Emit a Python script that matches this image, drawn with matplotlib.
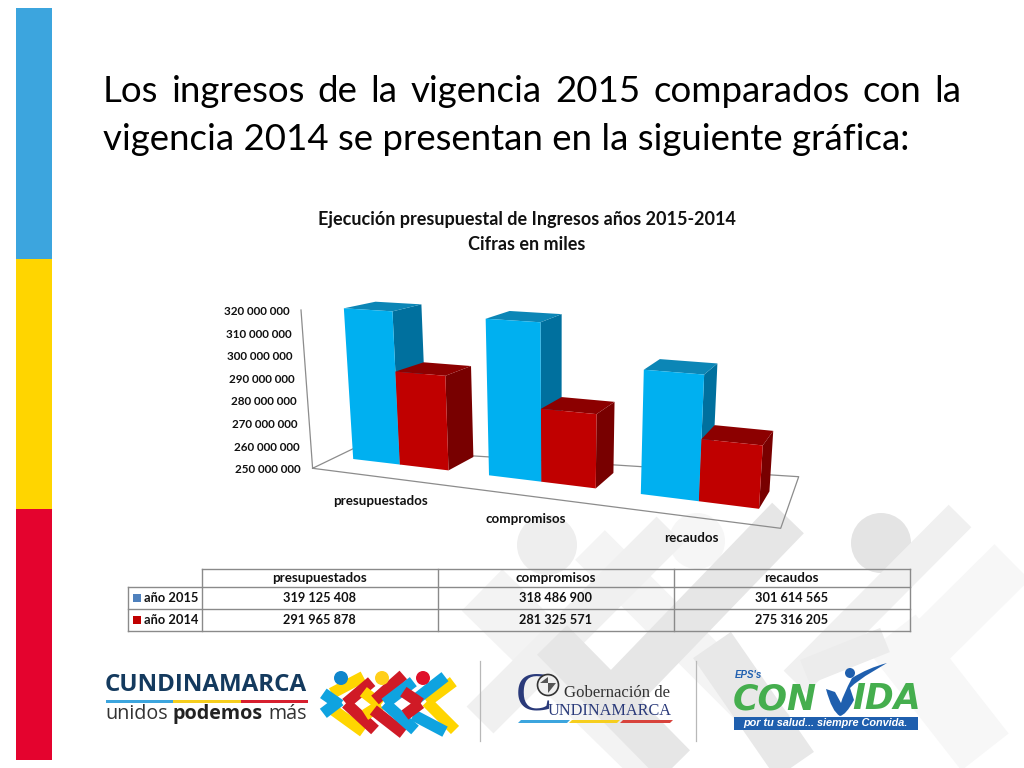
import matplotlib
matplotlib.use("Agg")
import matplotlib.pyplot as plt
from matplotlib.patches import Polygon, Rectangle, Circle, PathPatch
from matplotlib.path import Path
import numpy as np

# ---- data ----
categories = ["presupuestados", "compromisos", "recaudos"]
series_names = ["año 2015", "año 2014"]
values_2015 = [319125408, 318486900, 301614565]
values_2014 = [291965878, 281325571, 275316205]
axis_ticks = [250000000, 260000000, 270000000, 280000000,
              290000000, 300000000, 310000000, 320000000]
chart_title = ["Ejecución presupuestal de Ingresos años 2015-2014", "Cifras en miles"]
heading_1 = "Los ingresos de la vigencia 2015 comparados con la"
heading_2 = "vigencia 2014 se presentan en la siguiente gráfica:"

FONT = "Lato"
INK = "#111111"


def spaced(v):
    return f"{v:,}".replace(",", " ")


fig = plt.figure(figsize=(10.24, 7.68), dpi=100, facecolor="white")
ax = fig.add_axes([0, 0, 1, 1])
ax.set_xlim(0, 1024)
ax.set_ylim(768, 0)
ax.axis("off")
renderer = fig.canvas.get_renderer()


def band(x0, y0, x1, y1, w, color, z=1, alpha=1.0):
    d = np.array([x1 - x0, y1 - y0], float)
    n = np.array([-d[1], d[0]]) / np.hypot(*d) * w / 2
    a, b = np.array([x0, y0]), np.array([x1, y1])
    ax.add_patch(Polygon([a + n, b + n, b - n, a - n], closed=True, fc=color, ec="none",
                         zorder=z, alpha=alpha))


# ---- slide background ----
for y0, y1, c in [(8, 259, "#3CA5DE"), (259, 509, "#FFD500"), (509, 760, "#E4032E")]:
    ax.add_patch(Rectangle((15.5, y0), 36.5, y1 - y0, fc=c, ec="none", zorder=1))

for cx, cy, r, c in [(547, 545, 30, "#EEEEEE"), (881, 543, 30, "#E4E4E4"), (697, 541, 28, "#F6F6F6")]:
    ax.add_patch(Circle((cx, cy), r, fc=c, ec="none", zorder=1))
for b in [
    (1012, 562, 905, 668, 50, "#F7F7F7"),
    (892, 633, 985, 752, 60, "#F7F7F7"),
    (960, 516, 795, 682, 32, "#F0F0F0"),
    (482, 590, 668, 772, 58, "#F3F3F3"),
    (590, 545, 775, 730, 42, "#F4F4F4"),
    (670, 530, 480, 720, 38, "#F0F0F0"),
    (552, 640, 675, 765, 42, "#E6E6E6"),
    (788, 518, 625, 687, 44, "#E6E6E6"),
    (712, 645, 795, 765, 46, "#E8E8E8"),
    (805, 672, 885, 640, 26, "#ECECEC"),
]:
    band(*b, z=1)

# ---- heading, first line justified ----
HEAD_SIZE = 26.4
words = heading_1.split()
ws = [ax.text(0, 0, w, fontsize=HEAD_SIZE, family=FONT).get_window_extent(renderer).width for w in words]
for t in list(ax.texts):
    t.remove()
gap = (961 - 103 - sum(ws)) / (len(words) - 1)
x = 103
for w, wd in zip(words, ws):
    ax.text(x, 91, w, fontsize=HEAD_SIZE, family=FONT, color="black", va="center", ha="left", zorder=5)
    x += wd + gap
ax.text(103, 140, heading_2, fontsize=HEAD_SIZE, family=FONT, color="black", va="center", ha="left", zorder=5)

# ---- chart title ----
ax.text(527, 220, chart_title[0], fontsize=13, family=FONT, weight="bold", ha="center", va="center", color=INK, zorder=5)
ax.text(527, 244, chart_title[1], fontsize=13, family=FONT, weight="bold", ha="center", va="center", color=INK, zorder=5)


# ---- pseudo-3D projection of the chart ----
def floor(u, v):
    x = 353.2 + 127.8 * u + 8.0 * u ** 2 + v * (30.0 - 7.2 * u)
    y = 459.0 + 15.1 * u + 1.2 * u ** 2 + v * (-12.0 - 2.0 * u)
    return x, y


def lift(pt, value):
    bx, by = pt
    scale = 2.18 + (by - 459.0) * 0.0065
    h = (value - axis_ticks[0]) / 1e6 * scale
    return bx + (bx - 560.0) * 0.0003 * h, by - h


def wall(value):
    t = (value - axis_ticks[0]) / (axis_ticks[-1] - axis_ticks[0])
    return 312.6 - 11.6 * t, 468.3 - 158.3 * t


line_c = "#8C8C8C"
ax.plot([wall(axis_ticks[0])[0], wall(axis_ticks[-1])[0]], [wall(axis_ticks[0])[1], wall(axis_ticks[-1])[1]], color=line_c, lw=0.9, zorder=3)
quad = [(312.6, 468.3), (780.7, 528.3), (798.7, 476.7), (354, 448.3), (312.6, 468.3)]
ax.plot(*zip(*quad), color=line_c, lw=0.9, zorder=3)

for tick in axis_ticks:
    wx, wy = wall(tick)
    ax.text(wx - 11.5, wy + 1.5, spaced(tick), fontsize=8.4, family=FONT, weight="bold",
            ha="right", va="center", color=INK, zorder=5)

BAR_W = 0.357
faces = [dict(front="#00B0F0", top="#0C86B6", side="#00709E"),
         dict(front="#C00000", top="#8C0000", side="#780000")]
z = 4.0
for c in range(len(categories)):
    for s, vals in enumerate([values_2015, values_2014]):
        u0, u1 = c + s * BAR_W, c + (s + 1) * BAR_W
        val = vals[c]
        fl, fr, br, bl = floor(u0, 0), floor(u1, 0), floor(u1, 1), floor(u0, 1)
        tfl, tfr, tbr, tbl = lift(fl, val), lift(fr, val), lift(br, val), lift(bl, val)
        col = faces[s]
        ax.add_patch(Polygon([fr, br, tbr, tfr], fc=col["side"], ec="none", zorder=z))
        ax.add_patch(Polygon([tfl, tfr, tbr, tbl], fc=col["top"], ec="none", zorder=z))
        ax.add_patch(Polygon([fl, fr, tfr, tfl], fc=col["front"], ec="none", zorder=z + 0.01))
        z += 0.1

for name, (lx, ly) in zip(categories, [(380, 501), (526, 519), (691, 538)]):
    ax.text(lx, ly, name, fontsize=9.6, family=FONT, weight="bold", ha="center", va="center", color=INK, zorder=6)

# ---- data table ----
col_x = [127.5, 201.5, 437.5, 673.5, 910]
row_y = [569, 587, 609, 631]
g = "#8A8A8A"
ax.plot([col_x[1], col_x[4]], [row_y[0], row_y[0]], color=g, lw=1, zorder=5)
for yy in row_y[1:]:
    ax.plot([col_x[0], col_x[4]], [yy, yy], color=g, lw=1, zorder=5)
for xx in col_x[1:]:
    ax.plot([xx, xx], [row_y[0], row_y[3]], color=g, lw=1, zorder=5)
ax.plot([col_x[0], col_x[0]], [row_y[1], row_y[3]], color=g, lw=1, zorder=5)

for i, name in enumerate(categories):
    cx = (col_x[i + 1] + col_x[i + 2]) / 2
    ax.text(cx, 578, name, fontsize=9.6, family=FONT, weight="bold", ha="center", va="center", color=INK, zorder=6)
    ax.text(cx, 598, spaced(values_2015[i]), fontsize=9.2, family=FONT, weight="bold", ha="center", va="center", color=INK, zorder=6)
    ax.text(cx, 620, spaced(values_2014[i]), fontsize=9.2, family=FONT, weight="bold", ha="center", va="center", color=INK, zorder=6)
for name, yy, c in zip(series_names, [597.5, 620], ["#4F81BD", "#C00000"]):
    ax.add_patch(Rectangle((132.5, yy - 4), 8, 8, fc=c, ec="none", zorder=6))
    ax.text(144, yy, name, fontsize=9.3, family=FONT, weight="bold", ha="left", va="center", color=INK, zorder=6)

# ---- logos ----
navy = "#143A5E"
ax.text(105, 685, "CUNDINAMARCA", fontsize=17.4, family="Open Sans", weight="bold", color=navy, va="center", ha="left", zorder=6)
for x0, x1, c in [(106, 173, "#3CA5DE"), (173, 241, "#F6CE1E"), (241, 308, "#D71F2E")]:
    ax.add_patch(Rectangle((x0, 699.5), x1 - x0, 3.5, fc=c, ec="none", zorder=6))
ax.text(105, 714, "unidos", fontsize=14.2, family="Open Sans", color="#333333", va="center", ha="left", zorder=6)
ax.text(172, 714, "podemos", fontsize=14.2, family="Open Sans", weight="bold", color="#222222", va="center", ha="left", zorder=6)
ax.text(268, 714, "más", fontsize=14.2, family="Open Sans", color="#333333", va="center", ha="left", zorder=6)

Y, R, B = "#FFD500", "#D01A26", "#0FA3E0"
strokes = [
    (65, 100, 160, 50, Y), (70, 150, 160, 215, Y),
    (40, 100, 90, 135, B), (40, 160, 90, 122, B),
    (185, 65, 108, 130, R), (108, 130, 195, 210, R),
    (160, 95, 212, 135, Y), (212, 135, 165, 165, Y),
    (280, 45, 195, 120, R), (190, 150, 280, 220, R),
    (430, 65, 350, 125, Y), (350, 125, 435, 210, Y),
    (310, 65, 225, 130, B), (225, 130, 315, 210, B),
    (405, 50, 315, 120, B), (310, 165, 405, 215, B),
    (280, 95, 332, 130, R), (332, 130, 285, 165, R),
]
for i, (a, b_, c_, d, col) in enumerate(strokes):
    band(a / 3 + 310, b_ / 3 + 660, c_ / 3 + 310, d / 3 + 660, 11.5, col, z=6 + i * 0.01)
for cx, c in [(341, "#0F86CC"), (382, "#FFCF1A"), (423, "#E0102A")]:
    ax.add_patch(Circle((cx, 678), 7, fc=c, ec="none", zorder=7))

for xx in [480, 696]:
    ax.plot([xx, xx], [661, 741], color="#B8B8B8", lw=0.9, zorder=3)

# Gobernacion
ax.text(516, 696, "C", fontsize=39, family="Liberation Serif", color="#2A3A7A", va="center", ha="left", zorder=6)
ax.add_patch(Circle((548, 685), 10.5, fc="#EFEFEF", ec="#333333", lw=1.2, zorder=7))
ax.add_patch(Polygon([(540, 683), (556, 683), (548, 693), (548, 677)], fc="#555555", ec="none", zorder=8))
ax.text(564, 693, "Gobernación de", fontsize=12.1, family="Liberation Serif", color="#333333", va="center", ha="left", zorder=6)
ax.text(548, 711, "UNDINAMARCA", fontsize=11.7, family="Liberation Serif", color="#2A3A7A", va="center", ha="left", zorder=6)
for x0, x1, c in [(518, 567, "#3CA5DE"), (569, 617, "#F6CE1E"), (620, 670, "#D8433C")]:
    ax.add_patch(Polygon([(x0 + 3, 720), (x1 + 3, 720), (x1, 723), (x0, 723)], fc=c, ec="none", zorder=6))

# Convida
ax.text(735, 675, "EPS's", fontsize=7, family="Liberation Sans", weight="bold", style="italic", color="#2060B0", va="center", ha="left", zorder=6)
ax.text(733, 699, "CON", fontsize=25, family="DejaVu Sans", weight="bold", style="oblique", color="#45AE4E", va="center", ha="left", zorder=6)
ax.text(852, 699, "IDA", fontsize=25, family="DejaVu Sans", weight="bold", style="oblique", color="#45AE4E", va="center", ha="left", zorder=6)
v_path = Path([(826, 689), (832, 712), (840, 716), (846, 715), (854, 700), (850, 688), (858, 680), (872, 672), (887, 663),
               (868, 668), (852, 678), (843, 695), (841, 703), (835, 692), (826, 689)],
              [Path.MOVETO, Path.CURVE3, Path.CURVE3, Path.CURVE3, Path.CURVE3, Path.LINETO, Path.CURVE3, Path.CURVE3, Path.LINETO,
               Path.CURVE3, Path.CURVE3, Path.CURVE3, Path.LINETO, Path.LINETO, Path.CLOSEPOLY])
ax.add_patch(PathPatch(v_path, fc="#1F5FAE", ec="none", zorder=7))
ax.add_patch(Circle((850, 673), 5, fc="#1F5FAE", ec="none", zorder=7))
ax.add_patch(Rectangle((734, 717), 183.5, 13, fc="#1F5FAE", ec="none", zorder=6))
ax.text(825.5, 723.5, "por tu salud... siempre Convida.", fontsize=7.8, family="Liberation Sans", weight="bold", style="italic", color="white", va="center", ha="center", zorder=7)

fig.savefig("out.png", dpi=100)
